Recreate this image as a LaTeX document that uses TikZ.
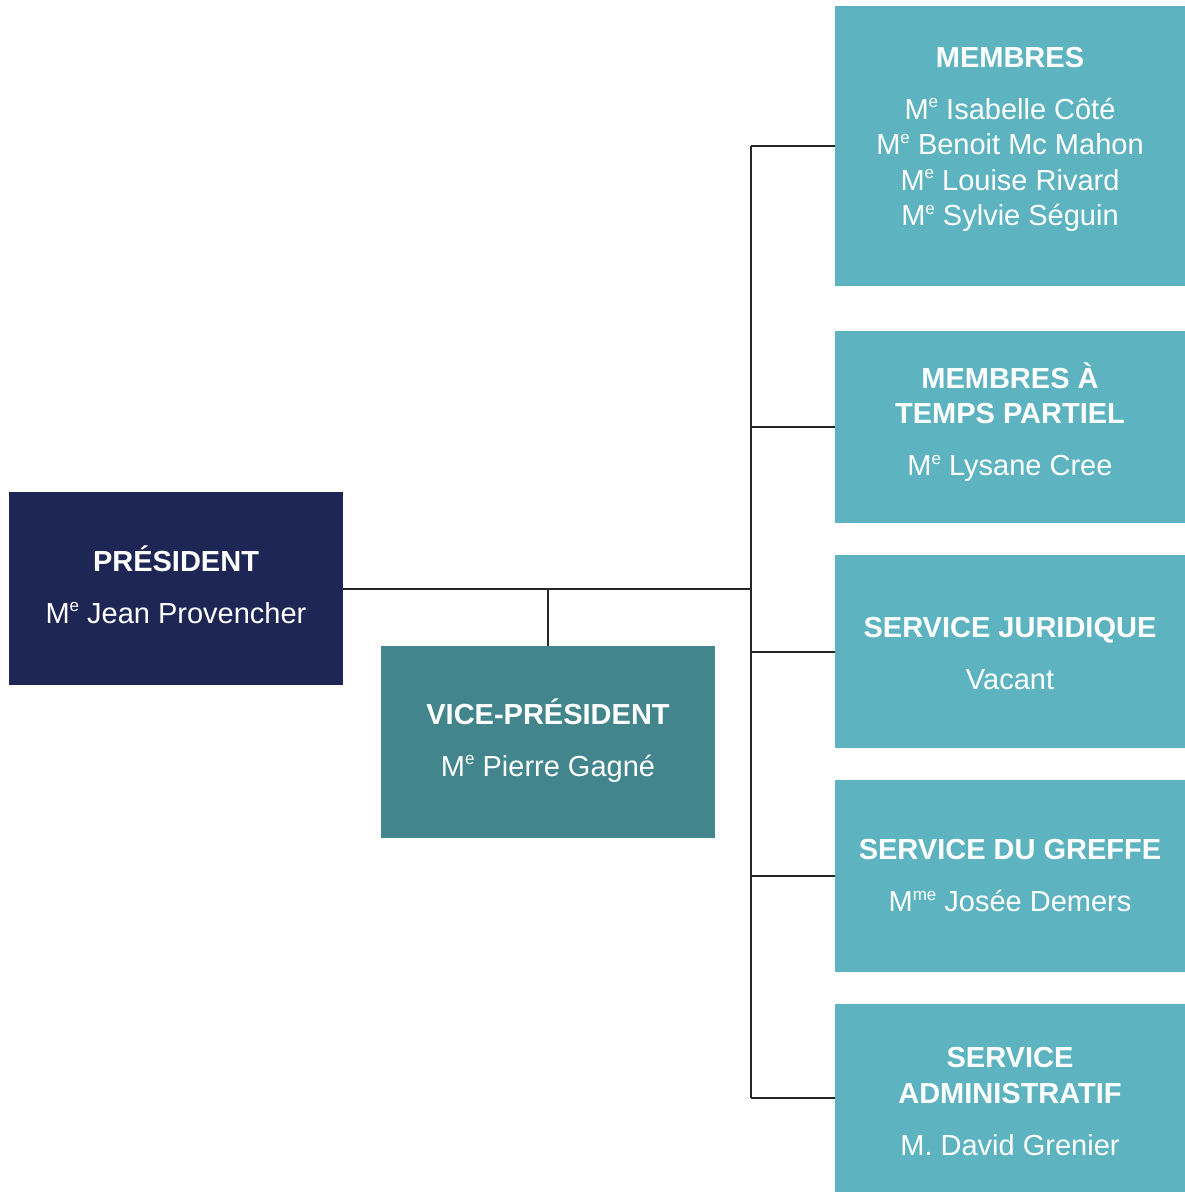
\documentclass[tikz,border=0pt]{standalone}
\usepackage{fontspec}
\setmainfont{Liberation Sans}
\definecolor{navy}{RGB}{30,38,85}
\definecolor{vpteal}{RGB}{66,133,140}
\definecolor{lightteal}{RGB}{93,180,192}
\newcommand{\sups}[1]{\raisebox{11.5pt}{\fontsize{17}{17}\selectfont #1}}
\newcommand{\Me}{M\sups{e}}
\newcommand{\Mme}{M\sups{me}}
\begin{document}
\begin{tikzpicture}[x=1pt,y=-1pt,
		box/.style={rectangle, text=white, align=center, inner sep=0pt, font=\fontsize{29}{35.5}\selectfont},
		wire/.style={line width=2pt, black!85}]
			\useasboundingbox (0,0) rectangle (1185,1192);
			% left side
			\node [box, fill=navy, minimum width=334pt, minimum height=193pt] (pres) at (176,588.5) {\textbf{PRÉSIDENT}\\[16.5pt]\Me{} Jean Provencher\\[-27.5pt]\mbox{}};
			\node [box, fill=vpteal, minimum width=334pt, minimum height=192pt] (vp) at (548,742) {\textbf{VICE-PRÉSIDENT}\\[16.5pt]\Me{} Pierre Gagné\\[-26.5pt]\mbox{}};
			% right column
			\node [box, fill=lightteal, minimum width=350pt, minimum height=280pt] (membres) at (1010,146) {\textbf{MEMBRES}\\[16.5pt]\Me{} Isabelle Côté\\\Me{} Benoit Mc Mahon\\\Me{} Louise Rivard\\\Me{} Sylvie Séguin\\[-16pt]\mbox{}};
			\node [box, fill=lightteal, minimum width=350pt, minimum height=192pt] (partiel) at (1010,427) {\textbf{MEMBRES À}\\\textbf{TEMPS PARTIEL}\\[16.5pt]\Me{} Lysane Cree\\[-19.5pt]\mbox{}};
			\node [box, fill=lightteal, minimum width=350pt, minimum height=193pt] (juridique) at (1010,651.5) {\mbox{}\\[-10.7pt]\textbf{SERVICE JURIDIQUE}\\[16.5pt]Vacant};
			\node [box, fill=lightteal, minimum width=350pt, minimum height=192pt] (greffe) at (1010,876) {\textbf{SERVICE DU GREFFE}\\[16.5pt]\Mme{} Josée Demers};
			\node [box, fill=lightteal, minimum width=350pt, minimum height=188pt] (admin) at (1010,1098) {\mbox{}\\[-8.7pt]\textbf{SERVICE}\\\textbf{ADMINISTRATIF}\\[16.5pt]M. David Grenier};
			% connectors
			\coordinate (spine) at (751,588.5);
			\draw [wire] (pres.east) -- (spine);
			\draw [wire] (vp.north |- spine) -- (vp.north);
			\draw [wire] (membres.west -| spine) -- (admin.west -| spine);
			\foreach \b in {membres,partiel,juridique,greffe,admin}
				\draw [wire] (\b.west -| spine) -- (\b.west);
		\end{tikzpicture}
\end{document}
